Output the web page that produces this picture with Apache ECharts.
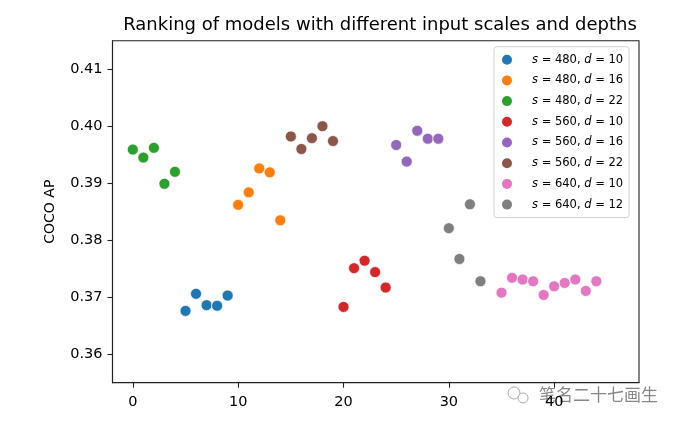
<!DOCTYPE html>
<html>
<head>
<meta charset="utf-8">
<script src="https://cdn.jsdelivr.net/npm/echarts@6/dist/echarts.min.js"></script>
<style>html,body{margin:0;padding:0;background:#fff}#c{width:682px;height:425px}</style>
</head>
<body>
<div id="c"></div>
<script>
// ---- data ----
const seriesNames = ['s = 480, d = 10','s = 480, d = 16','s = 480, d = 22','s = 560, d = 10','s = 560, d = 16','s = 560, d = 22','s = 640, d = 10','s = 640, d = 12'];
const xS480D10 = [5,6,7,8,9];
const yS480D10 = [0.3676,0.3706,0.3686,0.3685,0.3703];
const xS480D16 = [10,11,12,13,14];
const yS480D16 = [0.3862,0.3884,0.3926,0.3919,0.3835];
const xS480D22 = [0,1,2,3,4];
const yS480D22 = [0.3959,0.3945,0.3962,0.3899,0.3920];
const xS560D10 = [20,21,22,23,24];
const yS560D10 = [0.3683,0.3751,0.3764,0.3744,0.3717];
const xS560D16 = [25,26,27,28,29];
const yS560D16 = [0.3967,0.3938,0.3992,0.3978,0.3978];
const xS560D22 = [15,16,17,18,19];
const yS560D22 = [0.3982,0.3960,0.3979,0.4000,0.3974];
const xS640D10 = [35,36,37,38,39,40,41,42,43,44];
const yS640D10 = [0.3708,0.3734,0.3731,0.3728,0.3704,0.3719,0.3725,0.3731,0.3711,0.3728];
const xS640D12 = [30,31,32,33];
const yS640D12 = [0.3821,0.3767,0.3863,0.3728];
const xTicks = [0,10,20,30,40];
const yTicks = [0.36,0.37,0.38,0.39,0.40,0.41];

const colors = ['#1f77b4','#ff7f0e','#2ca02c','#d62728','#9467bd','#8c564b','#e377c2','#7f7f7f'];
const xs = [xS480D10,xS480D16,xS480D22,xS560D10,xS560D16,xS560D22,xS640D10,xS640D12];
const ys = [yS480D10,yS480D16,yS480D22,yS560D10,yS560D16,yS560D22,yS640D10,yS640D12];

const FONT = 'DejaVu Sans';
const chart = echarts.init(document.getElementById('c'));
chart.setOption({
  animation: false,
  color: colors,
  title: {
    text: 'Ranking of models with different input scales and depths',
    left: 375, top: 11, textAlign: 'center',
    textStyle: {fontFamily: FONT, fontSize: 18, fontWeight: 'normal', color: '#000'}
  },
  grid: {left: 112.5, right: 43, top: 40.7, bottom: 42.3, show: true, borderColor: '#222', borderWidth: 1.1, containLabel: false},
  legend: {
    orient: 'vertical', left: 494, top: 46.7,
    padding: [6, 6, 6, 6],
    itemWidth: 24, itemHeight: 12, itemGap: 6.7,
    icon: 'circle',
    borderColor: '#d0d0d0', borderWidth: 1, borderRadius: 3,
    backgroundColor: 'rgba(255,255,255,0.85)',
    formatter: function (name) {
      return name.replace(/^s/, '{i|s}').replace(/d =/, '{i|d} =');
    },
    textStyle: {fontFamily: FONT, fontSize: 11.5, color: '#000', padding: [0,0,0,8], lineHeight: 12,
      rich: {i: {fontStyle: 'italic', fontFamily: FONT, fontSize: 11.5}}},
    data: seriesNames
  },
  xAxis: {
    type: 'value', min: -1.93, max: 48.05,
    splitLine: {show: false},
    axisLine: {show: true, onZero: false, lineStyle: {color: '#222', width: 1.1}},
    axisTick: {show: true, length: 5, lineStyle: {color: '#222', width: 1.1}, customValues: xTicks},
    axisLabel: {customValues: xTicks, fontFamily: FONT, fontSize: 14.5, color: '#000', margin: 12}
  },
  yAxis: {
    type: 'value', min: 0.355, max: 0.415,
    name: 'COCO AP', nameLocation: 'middle', nameGap: 55,
    nameTextStyle: {fontFamily: FONT, fontSize: 14, color: '#000'},
    splitLine: {show: false},
    axisLine: {show: true, onZero: false, lineStyle: {color: '#222', width: 1.1}},
    axisTick: {show: true, length: 5, lineStyle: {color: '#222', width: 1.1}, customValues: yTicks},
    axisLabel: {customValues: yTicks, fontFamily: FONT, fontSize: 14.5, color: '#000', margin: 10,
      formatter: v => v.toFixed(2)}
  },
  graphic: [
    {type: 'circle', shape: {cx: 514, cy: 393, r: 6}, style: {fill: 'none', stroke: '#aaa', lineWidth: 1}},
    {type: 'circle', shape: {cx: 523, cy: 398, r: 5}, style: {fill: '#fff', stroke: '#aaa', lineWidth: 1}},
    {type: 'text', left: 539, top: 386, style: {text: '笔名二十七画生', fontFamily: 'Noto Sans CJK SC', fontSize: 17, fill: '#888'}}
  ],
  series: seriesNames.map((n, k) => ({
    name: n, type: 'scatter', symbolSize: 11,
    itemStyle: {color: colors[k], borderColor: '#fff', borderWidth: 0.7, opacity: 1},
    data: xs[k].map((x, i) => [x, ys[k][i]])
  }))
});
</script>
</body>
</html>
